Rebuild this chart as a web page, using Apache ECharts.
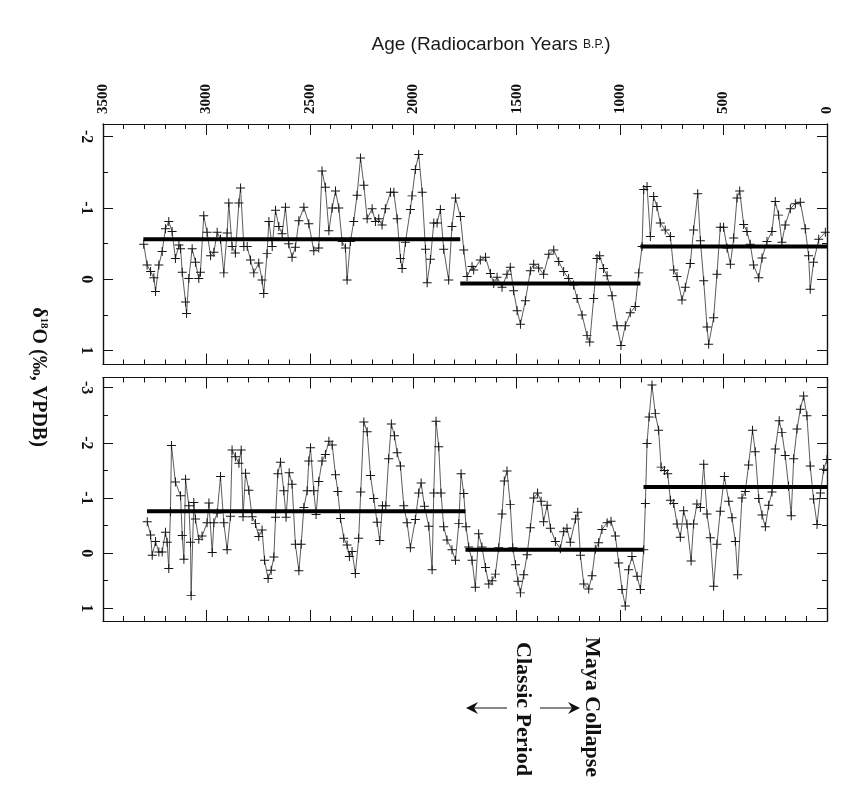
<!DOCTYPE html>
<html><head><meta charset="utf-8">
<script src="https://cdn.jsdelivr.net/npm/echarts/dist/echarts.min.js"></script>
<style>html,body{margin:0;padding:0;background:#fff}#c{width:844px;height:790px}</style>
</head><body><div id="c"></div>
<script>
// ---- data (age in radiocarbon years B.P., delta18O in permil VPDB) ----
const ageTicks = [0, 500, 1000, 1500, 2000, 2500, 3000, 3500];
const topMajorTicks = [-2, -1, 0, 1];
const topMinorTicks = [-1.5, -0.5, 0.5];
const botMajorTicks = [-3, -2, -1, 0, 1];
const botMinorTicks = [-2.5, -1.5, -0.5, 0.5];

const topSeries = [
[3303,-0.49],[3287,-0.20],[3270,-0.11],[3254,-0.02],[3246,0.17],[3230,-0.20],[3214,-0.39],[3198,-0.71],[3182,-0.81],[3166,-0.67],
[3150,-0.29],[3133,-0.48],[3125,-0.43],[3117,-0.10],[3101,0.32],[3096,0.48],[3085,-0.01],[3069,-0.43],[3053,-0.24],[3037,-0.01],
[3029,-0.10],[3013,-0.89],[2997,-0.66],[2980,-0.33],[2964,-0.38],[2948,-0.66],[2932,-0.56],[2916,-0.09],[2900,-0.65],[2892,-1.07],
[2876,-0.46],[2860,-0.37],[2843,-1.07],[2835,-1.28],[2819,-0.46],[2803,-0.46],[2787,-0.27],[2771,-0.09],[2747,-0.23],[2731,0.01],
[2723,0.20],[2707,-0.36],[2698,-0.81],[2682,-0.46],[2666,-0.97],[2650,-0.74],[2634,-0.64],[2618,-1.01],[2602,-0.50],[2586,-0.31],
[2570,-0.45],[2553,-0.82],[2529,-1.01],[2505,-0.78],[2481,-0.40],[2457,-0.44],[2441,-1.52],[2425,-1.29],[2408,-0.68],[2392,-1.00],
[2376,-1.24],[2360,-1.00],[2344,-0.53],[2328,-0.44],[2320,0.01],[2304,-0.53],[2288,-0.81],[2272,-1.18],[2255,-1.70],[2239,-1.32],
[2223,-0.85],[2199,-0.99],[2183,-0.81],[2167,-0.85],[2151,-0.76],[2135,-0.99],[2110,-1.22],[2094,-1.22],[2078,-0.85],[2062,-0.29],
[2054,-0.15],[2038,-0.52],[2014,-0.98],[2006,-1.17],[1990,-1.54],[1974,-1.75],[1957,-1.22],[1941,-0.42],[1933,0.05],[1917,-0.28],
[1901,-0.79],[1885,-0.79],[1869,-0.98],[1853,-0.42],[1829,0.01],[1813,-0.74],[1796,-1.14],[1772,-0.88],[1756,-0.41],[1740,-0.04],
[1716,-0.18],[1708,-0.13],[1676,-0.27],[1651,-0.31],[1627,-0.08],[1611,0.06],[1595,-0.03],[1571,0.11],[1547,-0.07],[1531,-0.17],
[1515,0.16],[1498,0.44],[1482,0.63],[1458,0.30],[1434,-0.12],[1418,-0.21],[1394,-0.16],[1370,-0.07],[1345,-0.35],[1321,-0.41],
[1297,-0.25],[1273,-0.11],[1249,-0.01],[1225,0.08],[1208,0.27],[1184,0.50],[1160,0.79],[1147,0.88],[1128,0.27],[1112,-0.29],
[1099,-0.33],[1080,-0.15],[1063,-0.05],[1039,0.23],[1015,0.65],[996,0.93],[975,0.65],[951,0.47],[927,0.38],[910,-0.09],
[894,-0.46],[886,-1.26],[870,-1.30],[854,-0.60],[838,-1.16],[822,-1.02],[806,-0.79],[782,-0.69],[757,-0.60],[741,-0.13],
[725,-0.04],[701,0.29],[685,0.11],[661,-0.22],[645,-0.69],[625,-1.20],[612,-0.54],[596,0.02],[580,0.67],[572,0.91],
[548,0.54],[532,-0.07],[516,-0.73],[500,-0.73],[483,-0.44],[467,-0.21],[451,-0.58],[435,-1.14],[422,-1.24],[403,-0.77],
[387,-0.67],[371,-0.49],[355,-0.20],[330,-0.02],[314,-0.30],[290,-0.53],[266,-0.67],[250,-1.09],[234,-0.90],[218,-0.52],
[202,-0.76],[177,-0.99],[153,-1.06],[129,-1.08],[105,-0.71],[89,-0.33],[81,0.14],[65,-0.24],[40,-0.56],[8,-0.66]
];

const botSeries = [
[3286,-0.57],[3270,-0.33],[3262,0.04],[3246,-0.21],[3230,-0.02],[3214,-0.02],[3198,-0.38],[3190,-0.20],[3182,0.28],[3174,-0.75],
[3169,-1.95],[3150,-1.29],[3125,-1.04],[3117,-0.32],[3109,0.11],[3101,-1.34],[3085,-0.86],[3077,-0.20],[3074,0.77],[3061,-0.92],
[3053,-0.62],[3037,-0.25],[3021,-0.31],[2997,-0.55],[2988,-0.91],[2972,-0.01],[2964,-0.55],[2948,-0.73],[2932,-1.39],[2916,-0.55],
[2900,-0.06],[2884,-0.67],[2876,-1.87],[2860,-1.75],[2843,-1.63],[2832,-1.87],[2823,-0.66],[2811,-1.45],[2795,-1.14],[2779,-0.66],
[2763,-0.54],[2747,-0.30],[2731,-0.42],[2719,0.13],[2702,0.46],[2687,0.31],[2674,0.07],[2666,-0.65],[2655,-1.44],[2642,-1.65],
[2626,-1.13],[2615,-0.65],[2600,-1.46],[2586,-1.25],[2570,-0.16],[2553,0.32],[2542,-0.16],[2529,-0.83],[2513,-1.13],[2505,-1.67],
[2497,-1.91],[2481,-1.13],[2470,-0.70],[2457,-1.30],[2441,-1.67],[2425,-1.79],[2408,-2.03],[2392,-1.96],[2376,-1.42],[2365,-1.12],
[2352,-0.63],[2336,-0.27],[2320,-0.15],[2309,0.06],[2296,-0.03],[2280,0.37],[2264,-0.27],[2254,-1.11],[2239,-2.38],[2223,-2.20],
[2207,-1.41],[2191,-0.99],[2175,-0.56],[2162,-0.23],[2149,-0.86],[2133,-0.86],[2119,-1.71],[2106,-2.34],[2091,-2.13],[2078,-1.82],
[2062,-1.58],[2046,-0.86],[2030,-0.55],[2014,-0.10],[1990,-0.61],[1974,-1.09],[1962,-1.27],[1946,-0.85],[1925,-0.49],[1909,0.30],
[1901,-1.09],[1890,-2.39],[1877,-1.93],[1866,-1.09],[1853,-0.48],[1837,-0.24],[1813,-0.06],[1796,0.13],[1780,-0.54],[1769,-1.44],
[1756,-1.08],[1745,-0.48],[1732,-0.11],[1716,0.13],[1700,0.62],[1684,-0.35],[1668,-0.11],[1651,0.26],[1635,0.56],[1619,0.50],
[1603,0.38],[1587,-0.10],[1571,-0.71],[1560,-1.31],[1547,-1.49],[1531,-0.88],[1519,-0.10],[1506,0.21],[1494,0.51],[1482,0.72],
[1466,0.39],[1450,0.03],[1434,-0.46],[1418,-1.00],[1399,-1.09],[1382,-0.94],[1370,-0.57],[1353,-0.87],[1337,-0.45],[1313,-0.21],
[1289,-0.08],[1273,-0.39],[1257,-0.45],[1241,-0.20],[1216,-0.62],[1205,-0.74],[1192,0.04],[1176,0.56],[1152,0.65],[1136,0.41],
[1120,-0.07],[1104,-0.19],[1088,-0.43],[1063,-0.55],[1044,-0.58],[1023,-0.31],[1007,0.18],[991,0.66],[975,0.96],[959,0.30],
[943,0.06],[918,0.42],[902,0.66],[886,-0.06],[878,-0.90],[870,-1.99],[860,-2.47],[846,-3.05],[830,-2.53],[814,-2.23],
[802,-1.56],[786,-1.50],[770,-1.44],[757,-0.96],[741,-0.90],[725,-0.53],[709,-0.29],[693,-0.77],[677,-0.53],[657,0.14],
[645,-0.53],[629,-0.89],[612,-0.83],[596,-1.61],[580,-0.71],[564,-0.28],[548,0.60],[532,-0.16],[516,-0.76],[496,-1.39],
[475,-0.94],[459,-0.64],[443,-0.21],[432,0.39],[411,-1.00],[395,-1.12],[379,-1.60],[360,-2.23],[347,-1.84],[330,-0.99],
[314,-0.69],[298,-0.48],[282,-0.87],[266,-1.11],[250,-1.89],[231,-2.40],[218,-2.19],[202,-1.77],[186,-1.22],[173,-0.68],
[161,-1.71],[145,-2.25],[129,-2.61],[113,-2.85],[97,-2.49],[81,-1.58],[65,-0.98],[48,-0.52],[32,-1.09],[16,-1.52],[0,-1.70]
];

// mean segments: [start age, end age, mean value]
const topMeans = [[3305, 1773, -0.56], [1773, 902, 0.06], [902, 0, -0.46]];
const botMeans = [[3287, 1748, -0.76], [1748, 887, -0.06], [887, 0, -1.20]];

// ---- chart ----
const SERIF = '"Liberation Serif", "DejaVu Serif", serif';
const INK = '#111';
const CROSS = 'path://M4.45,0H5.55V4.45H10V5.55H5.55V10H4.45V5.55H0V4.45H4.45Z';

function xAx(grid, pos, showLabel) {
  return {
    type: 'value', gridIndex: grid, position: pos, inverse: true,
    min: ageTicks[0], max: ageTicks[ageTicks.length - 1], interval: 500,
    axisLine: {show: true, onZero: false, lineStyle: {color: INK, width: 1.2}},
    axisTick: {show: true, inside: true, length: 11, lineStyle: {color: INK, width: 1}},
    minorTick: {show: true, splitNumber: 5, length: 5, lineStyle: {color: INK, width: 1}},
    axisLabel: {show: showLabel, rotate: -90, margin: 10, fontFamily: SERIF, fontWeight: 'bold',
                fontSize: 15, color: INK, showMinLabel: true, showMaxLabel: true,
                formatter: v => String(v)},
    splitLine: {show: false}, minorSplitLine: {show: false}
  };
}
function yAx(grid, pos, min, max, ticks, len, labels) {
  return {
    type: 'value', gridIndex: grid, position: pos, inverse: true, min: min, max: max,
    axisLine: {show: true, onZero: false, lineStyle: {color: INK, width: 1.2}},
    axisTick: {show: true, inside: true, length: len, customValues: ticks, lineStyle: {color: INK, width: 1}},
    axisLabel: labels ? {show: true, customValues: labels, rotate: -90, margin: 9, fontFamily: SERIF,
                fontWeight: 'bold', fontSize: 16, color: INK, formatter: v => String(v)} : {show: false},
    splitLine: {show: false}
  };
}

const TOP_MIN = -2.178, TOP_MAX = 1.195, BOT_MIN = -3.185, BOT_MAX = 1.23;

const series = [];
function addPanel(data, means, xi, yi) {
  series.push({
    type: 'line', xAxisIndex: xi, yAxisIndex: yi, data: data,
    symbol: CROSS, symbolSize: 9, showAllSymbol: true,
    lineStyle: {color: '#4a4a4a', width: 0.9},
    itemStyle: {color: '#151515'}, z: 3, silent: true
  });
  means.forEach(m => series.push({
    type: 'line', xAxisIndex: xi, yAxisIndex: yi, data: [[m[0], m[2]], [m[1], m[2]]],
    symbol: 'none', lineStyle: {color: '#000', width: 4}, z: 4, silent: true
  }));
}
addPanel(topSeries, topMeans, 0, 0);
addPanel(botSeries, botMeans, 2, 4);

const chart = echarts.init(document.getElementById('c'), null, {renderer: 'canvas'});
chart.setOption({
  backgroundColor: '#fff',
  animation: false,
  grid: [
    {left: 103, top: 124, width: 724, height: 240.5, show: false},
    {left: 103, top: 377.5, width: 724, height: 243.5, show: false}
  ],
  xAxis: [xAx(0, 'top', true), xAx(0, 'bottom', false), xAx(1, 'top', false), xAx(1, 'bottom', false)],
  yAxis: [
    yAx(0, 'left', TOP_MIN, TOP_MAX, topMajorTicks, 10, topMajorTicks),
    yAx(0, 'right', TOP_MIN, TOP_MAX, topMajorTicks, 10, null),
    yAx(0, 'left', TOP_MIN, TOP_MAX, topMinorTicks, 5, null),
    yAx(0, 'right', TOP_MIN, TOP_MAX, topMinorTicks, 5, null),
    yAx(1, 'left', BOT_MIN, BOT_MAX, botMajorTicks, 10, botMajorTicks),
    yAx(1, 'right', BOT_MIN, BOT_MAX, botMajorTicks, 10, null),
    yAx(1, 'left', BOT_MIN, BOT_MAX, botMinorTicks, 5, null),
    yAx(1, 'right', BOT_MIN, BOT_MAX, botMinorTicks, 5, null)
  ],
  series: series,
  graphic: [
    {type: 'text', x: 491, y: 45, style: {
      text: '{a|Age (Radiocarbon Years }{b|B.P.}{a|)}', align: 'center', verticalAlign: 'middle',
      rich: {a: {fontFamily: '"Liberation Sans", Arial, sans-serif', fontSize: 19, fill: '#1a1a1a', lineHeight: 22},
             b: {fontFamily: '"Liberation Sans", Arial, sans-serif', fontSize: 12, fill: '#1a1a1a', lineHeight: 22}}}},
    {type: 'text', x: 38, y: 377, rotation: -Math.PI / 2, style: {
      text: '{a|δ}{s|18}{a|O (‰, VPDB)}', align: 'center', verticalAlign: 'middle',
      rich: {a: {fontFamily: SERIF, fontWeight: 'bold', fontSize: 20, fill: INK, lineHeight: 22},
             s: {fontFamily: SERIF, fontWeight: 'bold', fontSize: 11, fill: INK, lineHeight: 22, verticalAlign: 'top'}}}},
    {type: 'text', x: 592, y: 707, rotation: -Math.PI / 2, style: {
      text: 'Maya Collapse', align: 'center', verticalAlign: 'middle',
      font: 'bold 22px ' + SERIF, fill: INK}},
    {type: 'text', x: 523, y: 709, rotation: -Math.PI / 2, style: {
      text: 'Classic Period', align: 'center', verticalAlign: 'middle',
      font: 'bold 22px ' + SERIF, fill: INK}},
    {type: 'line', shape: {x1: 540, y1: 708, x2: 574, y2: 708}, style: {stroke: INK, lineWidth: 1.2}},
    {type: 'polygon', shape: {points: [[580, 708], [568, 702], [572, 708], [568, 714]]}, style: {fill: INK}},
    {type: 'line', shape: {x1: 507, y1: 708, x2: 472, y2: 708}, style: {stroke: INK, lineWidth: 1.2}},
    {type: 'polygon', shape: {points: [[466, 708], [478, 702], [474, 708], [478, 714]]}, style: {fill: INK}}
  ]
});
</script></body></html>
